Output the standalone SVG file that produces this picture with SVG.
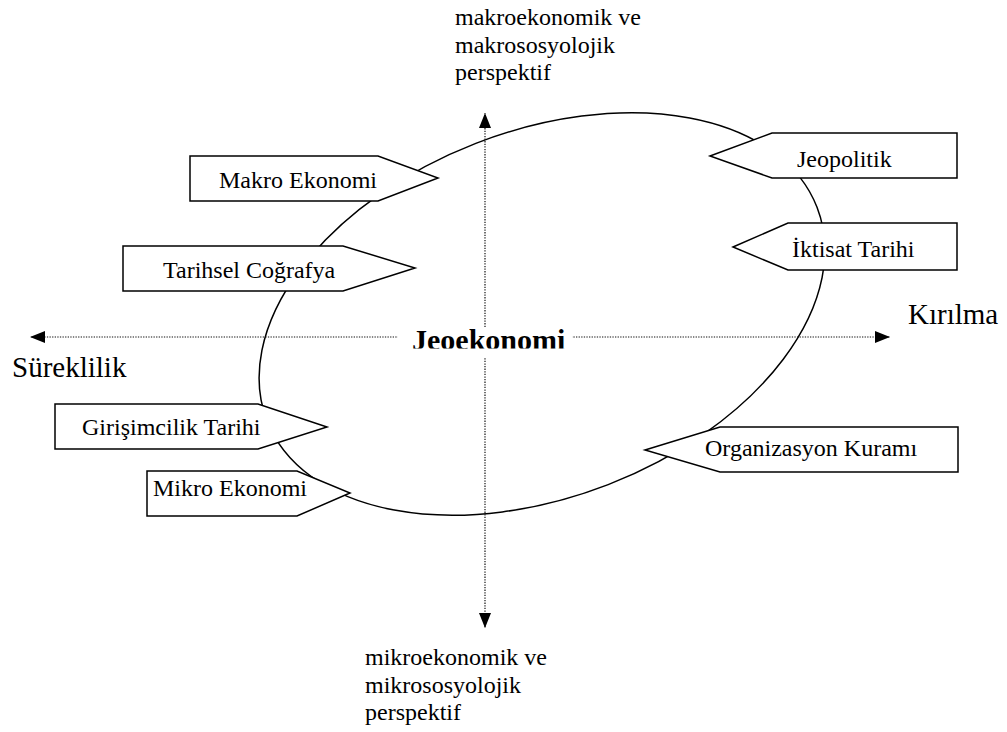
<svg xmlns="http://www.w3.org/2000/svg" width="1007" height="732" viewBox="0 0 1007 732">
  <defs>
    <style>
      .lbl { font-family: "Liberation Serif", "Times New Roman", serif; font-size: 24px; fill: #000; }
      .big { font-family: "Liberation Serif", "Times New Roman", serif; font-size: 29px; fill: #000; }
      .title { font-family: "Liberation Serif", "Times New Roman", serif; font-size: 30px; font-weight: bold; fill: #000; }
      .box { fill: #fff; stroke: #000; stroke-width: 1.5; stroke-linejoin: miter; }
      .axis { fill: none; stroke: #111; stroke-width: 1.2; stroke-dasharray: 1.3 1.3; }
      .oval { fill: none; stroke: #000; stroke-width: 1.5; }
    </style>
    <marker id="ah" viewBox="0 0 15 12" refX="15" refY="6" markerWidth="15" markerHeight="12" markerUnits="userSpaceOnUse" orient="auto">
      <path d="M0,0 L15,6 L0,12 Z" fill="#000"/>
    </marker>
    <clipPath id="clipTitle">
      <rect x="395" y="320" width="190" height="28.5"/>
    </clipPath>
  </defs>

  <g id="oval">
    <ellipse class="oval" cx="542" cy="314" rx="295" ry="183" transform="rotate(-21.2 542 314)"/>
  </g>

  <g id="connectors">
    <line class="axis" x1="485" y1="340" x2="485" y2="113" marker-end="url(#ah)"/>
    <line class="axis" x1="485" y1="340" x2="485" y2="628" marker-end="url(#ah)"/>
    <line class="axis" x1="485" y1="337" x2="30" y2="337" marker-end="url(#ah)"/>
    <line class="axis" x1="485" y1="337" x2="890" y2="337" marker-end="url(#ah)"/>
  </g>

  <g id="jeoekonomi">
    <rect x="398" y="328" width="174" height="29" fill="#fff"/>
    <text class="title" x="412" y="350" clip-path="url(#clipTitle)">Jeoekonomi</text>
  </g>

  <g id="makro-perspektif">
    <text class="lbl" x="455" y="25">makroekonomik ve</text>
    <text class="lbl" x="455" y="52.5">makrososyolojik</text>
    <text class="lbl" x="455" y="80">perspektif</text>
  </g>

  <g id="mikro-perspektif">
    <text class="lbl" x="365" y="665">mikroekonomik ve</text>
    <text class="lbl" x="365" y="693">mikrososyolojik</text>
    <text class="lbl" x="365" y="720">perspektif</text>
  </g>

  <g id="sureklilik">
    <text class="big" x="12" y="377">Süreklilik</text>
  </g>

  <g id="kirilma">
    <text class="big" x="908" y="324">Kırılma</text>
  </g>

  <g id="makro-ekonomi">
    <polygon class="box" points="190,156 378,156 438,178 378,201 190,201"/>
    <text class="lbl" x="219" y="188">Makro Ekonomi</text>
  </g>

  <g id="tarihsel-cografya">
    <polygon class="box" points="123,246 343,246 415,268 343,291 123,291"/>
    <text class="lbl" x="163" y="278">Tarihsel Coğrafya</text>
  </g>

  <g id="jeopolitik">
    <polygon class="box" points="710,156 772,133 957,133 957,178 772,178"/>
    <text class="lbl" x="797" y="167">Jeopolitik</text>
  </g>

  <g id="iktisat-tarihi">
    <polygon class="box" points="733,247 788,223 957,223 957,270 788,270"/>
    <text class="lbl" x="792" y="257">İktisat Tarihi</text>
  </g>

  <g id="girisimcilik-tarihi">
    <polygon class="box" points="55,404 258,404 327,427 258,449 55,449"/>
    <text class="lbl" x="82" y="435">Girişimcilik Tarihi</text>
  </g>

  <g id="mikro-ekonomi">
    <polygon class="box" points="147,471 297,471 350,493 297,516 147,516"/>
    <text class="lbl" x="153" y="496">Mikro Ekonomi</text>
  </g>

  <g id="organizasyon-kurami">
    <polygon class="box" points="645,450 720,427 958,427 958,472 720,472"/>
    <text class="lbl" x="705" y="456">Organizasyon Kuramı</text>
  </g>
</svg>
